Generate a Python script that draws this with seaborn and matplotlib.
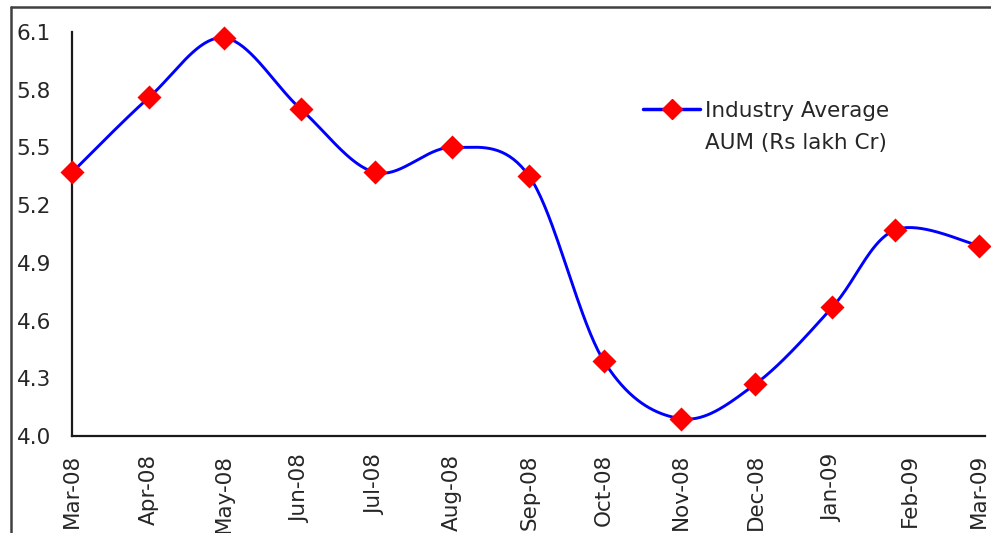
import numpy as np
import pandas as pd
import matplotlib
matplotlib.use("Agg")
import matplotlib.pyplot as plt
import matplotlib.dates as mdates
from matplotlib.lines import Line2D
import seaborn as sns

# Monthly industry average AUM (Rs lakh crore)
months = ["Mar-08", "Apr-08", "May-08", "Jun-08", "Jul-08", "Aug-08", "Sep-08",
          "Oct-08", "Nov-08", "Dec-08", "Jan-09", "Feb-09", "Mar-09"]
obs_dates = ["2008-03-01", "2008-04-01", "2008-05-01", "2008-06-01", "2008-07-01",
             "2008-08-01", "2008-09-01", "2008-10-01", "2008-11-01", "2008-12-01",
             "2009-01-01", "2009-01-26", "2009-03-01"]
aum = [5.37, 5.76, 6.07, 5.70, 5.37, 5.50, 5.35, 4.39, 4.09, 4.27, 4.67, 5.07, 4.99]
tick_dates = ["2008-03-01", "2008-04-01", "2008-05-01", "2008-06-01", "2008-07-01",
              "2008-08-01", "2008-09-01", "2008-10-01", "2008-11-01", "2008-12-01",
              "2009-01-01", "2009-02-01", "2009-03-01"]
y_ticks = [4.0, 4.3, 4.6, 4.9, 5.2, 5.5, 5.8, 6.1]
series_name = ["Industry Average", "AUM (Rs lakh Cr)"]

sns.set_style("white")
plt.rcParams["font.family"] = ["DejaVu Sans"]

x = mdates.date2num(pd.to_datetime(obs_dates))
y = np.asarray(aum, dtype=float)


def smooth_path(xs, ys, steps=40):
    """Cubic Bezier smoothing through every point (Catmull-Rom style)."""
    px = np.concatenate([[xs[0]], xs, [xs[-1]]])
    py = np.concatenate([[ys[0]], ys, [ys[-1]]])
    out_x, out_y = [], []
    t = np.linspace(0, 1, steps)
    for i in range(1, len(px) - 2):
        p0x, p0y = px[i], py[i]
        p3x, p3y = px[i + 1], py[i + 1]
        c1x = p0x + (px[i + 1] - px[i - 1]) / 6
        c1y = p0y + (py[i + 1] - py[i - 1]) / 6
        c2x = p3x - (px[i + 2] - px[i]) / 6
        c2y = p3y - (py[i + 2] - py[i]) / 6
        b0, b1, b2, b3 = (1 - t) ** 3, 3 * (1 - t) ** 2 * t, 3 * (1 - t) * t ** 2, t ** 3
        out_x.append(b0 * p0x + b1 * c1x + b2 * c2x + b3 * p3x)
        out_y.append(b0 * p0y + b1 * c1y + b2 * c2y + b3 * p3y)
    return np.concatenate(out_x), np.concatenate(out_y)


sx, sy = smooth_path(x, y)
curve = pd.DataFrame({"date": sx, "aum": sy})
points = pd.DataFrame({"date": x, "aum": y})

W, H = 991, 533
fig = plt.figure(figsize=(W / 100, H / 100), dpi=100)
ax = fig.add_axes([72 / W, 1 - 436 / H, (985 - 72) / W, (436 - 32) / H])

line_color = "#0000FF"
marker_color = "#FF0000"
text_color = "#262626"
fs = 15.5

sns.lineplot(data=curve, x="date", y="aum", ax=ax, color=line_color, linewidth=2.1,
             sort=False, estimator=None, clip_on=False)
sns.scatterplot(data=points, x="date", y="aum", ax=ax, marker="D", s=150,
                color=marker_color, edgecolor=marker_color, linewidth=0,
                zorder=5, clip_on=False)

x0 = mdates.date2num(pd.Timestamp("2008-03-01"))
x1 = mdates.date2num(pd.Timestamp("2009-03-01")) + 2.4
ax.set_xlim(x0, x1)
ax.set_ylim(4.0, 6.1)

ax.set_xticks(mdates.date2num(pd.to_datetime(tick_dates)))
ax.set_xticklabels(months, rotation=90, fontsize=fs, color=text_color)
ax.set_yticks(y_ticks)
ax.set_yticklabels([f"{v:.1f}" for v in y_ticks], fontsize=fs, color=text_color)
ax.set_xlabel("")
ax.set_ylabel("")

for side in ["top", "right"]:
    ax.spines[side].set_visible(False)
for side in ["left", "bottom"]:
    ax.spines[side].set_color("#1a1a1a")
    ax.spines[side].set_linewidth(1.6)
ax.tick_params(axis="both", direction="out", length=6, width=1.6, color="#1a1a1a")
ax.tick_params(axis="y", pad=9)
ax.tick_params(axis="x", pad=7)

# legend: handle next to the first line of the series name
handle = Line2D([], [], color=line_color, linewidth=2.5, marker="D", markersize=10,
                markerfacecolor=marker_color, markeredgecolor=marker_color)
leg = fig.legend([handle], [series_name[0]], loc="center left",
                 bbox_to_anchor=(643 / W, 1 - 111 / H),
                 frameon=False, fontsize=fs, handlelength=2.65, handletextpad=0.25,
                 borderaxespad=0, borderpad=0)
for txt in leg.get_texts():
    txt.set_color(text_color)
fig.text(705 / W, 1 - 143 / H, series_name[1], fontsize=fs, color=text_color,
         ha="left", va="center")

# outer chart border (top and left edges visible)
frame_color = "#404040"
fig.add_artist(Line2D([11 / W, 1.0], [1 - 7 / H, 1 - 7 / H],
                      transform=fig.transFigure, color=frame_color, linewidth=1.8))
fig.add_artist(Line2D([11 / W, 11 / W], [0.0, 1 - 7 / H],
                      transform=fig.transFigure, color=frame_color, linewidth=1.8))

fig.savefig("out.png", dpi=100)
